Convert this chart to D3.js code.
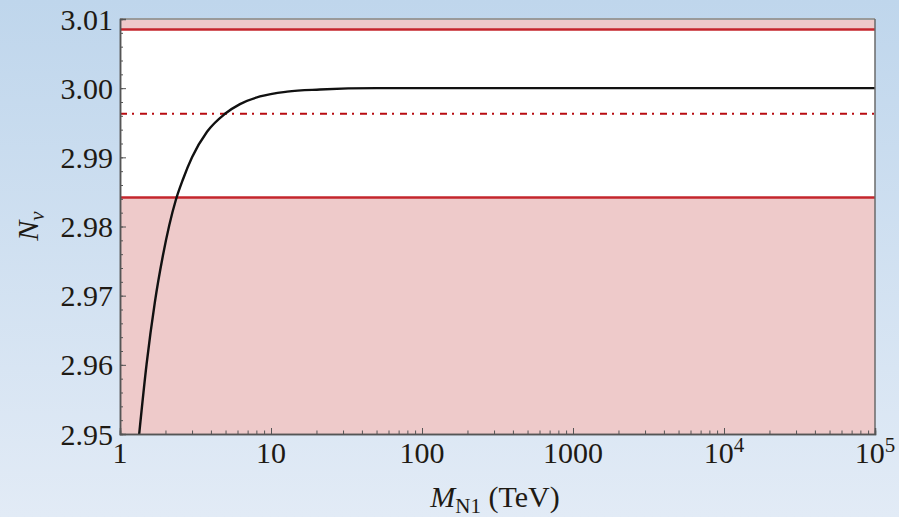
<!DOCTYPE html>
<html>
<head>
<meta charset="utf-8">
<script src="https://cdn.jsdelivr.net/npm/d3@7"></script>
<style>
  html, body { margin: 0; padding: 0; }
  body { width: 899px; height: 517px; overflow: hidden; }
  svg { display: block; }
  svg text { font-family: "Liberation Serif", "DejaVu Serif", serif; }
</style>
</head>
<body>
<svg id="chart" width="899" height="517"></svg>
<script>
// Effective number of light neutrinos vs. heavy neutrino mass
const massTeV = [1.34, 1.50, 1.70, 1.92, 2.34, 2.61, 3.00, 3.77, 4.96, 6.23, 8.46, 12.8, 21.1, 50, 200, 1000, 10000, 100000];
const nNu     = [2.9500, 2.9601, 2.9690, 2.9757, 2.9838, 2.9868, 2.9900, 2.9937, 2.9963, 2.9977, 2.9988, 2.9995, 2.9998, 3.0000, 3.0000, 3.0000, 3.0000, 3.0000];

// Experimental band: allowed region between the two solid lines, central value dash-dot
const bandUpper = 3.0085;
const bandLower = 2.9842;
const central = 2.9963;

const yTicks = [2.95, 2.96, 2.97, 2.98, 2.99, 3.00, 3.01];
const xTicks = [1, 10, 100, 1000, 10000, 100000];
const xTickLabels = ["1", "10", "100", "1000", "10^4", "10^5"];

const W = 899, H = 517;
const m = { left: 120, right: 24, top: 19, bottom: 83 };
const svg = d3.select("#chart");

// Page background gradient
const defs = svg.append("defs");
const grad = defs.append("linearGradient").attr("id", "bg").attr("x1", 0).attr("y1", 0).attr("x2", 0).attr("y2", 1);
grad.append("stop").attr("offset", "0%").attr("stop-color", "#bfd6ec");
grad.append("stop").attr("offset", "100%").attr("stop-color", "#e2ebf6");
svg.append("rect").attr("width", W).attr("height", H).attr("fill", "url(#bg)");

const x = d3.scaleLog().domain([1, 100000]).range([m.left, W - m.right]);
const y = d3.scaleLinear().domain([2.95, 3.01]).range([H - m.bottom, m.top]);

const x0 = x.range()[0], x1 = x.range()[1];
const yTop = y.range()[1], yBot = y.range()[0];

defs.append("clipPath").attr("id", "plot")
  .append("rect").attr("x", x0).attr("y", yTop).attr("width", x1 - x0).attr("height", yBot - yTop);

// Plot background
svg.append("rect").attr("x", x0).attr("y", yTop).attr("width", x1 - x0).attr("height", yBot - yTop).attr("fill", "#ffffff");

const pink = "#eecaca";
const red = "#c4262c";
// Excluded regions
svg.append("rect").attr("x", x0).attr("width", x1 - x0)
  .attr("y", y(3.01)).attr("height", y(bandUpper) - y(3.01)).attr("fill", pink);
svg.append("rect").attr("x", x0).attr("width", x1 - x0)
  .attr("y", y(bandLower)).attr("height", y(2.95) - y(bandLower)).attr("fill", pink);

const g = svg.append("g").attr("clip-path", "url(#plot)");

// Band edges
[bandUpper, bandLower].forEach(v => {
  g.append("line").attr("x1", x0).attr("x2", x1).attr("y1", y(v)).attr("y2", y(v))
    .attr("stroke", red).attr("stroke-width", 2.5);
});
// Central value
g.append("line").attr("x1", x0).attr("x2", x1).attr("y1", y(central)).attr("y2", y(central))
  .attr("stroke", "#b80c12").attr("stroke-width", 2.2).attr("stroke-dasharray", "7,5,2,6");

// Curve
const line = d3.line().x((d, i) => x(massTeV[i])).y(d => y(d)).curve(d3.curveMonotoneX);
g.append("path").attr("d", line(nNu)).attr("fill", "none")
  .attr("stroke", "#111").attr("stroke-width", 2.4);

// Frame
svg.append("line").attr("x1", x0).attr("x2", x1).attr("y1", yTop).attr("y2", yTop).attr("stroke", "#9a9a9a").attr("stroke-width", 2);
svg.append("line").attr("x1", x1).attr("x2", x1).attr("y1", yTop).attr("y2", yBot).attr("stroke", "#6a6a6a").attr("stroke-width", 1.5);

// Axes with inward ticks
const axisColor = "#555";
const yMinor = d3.range(2.95, 3.0101, 0.002).map(v => +v.toFixed(3));
const yAxis = svg.append("g").attr("transform", `translate(${x0},0)`);
yAxis.call(d3.axisRight(y).tickValues(yMinor).tickSize(3).tickFormat(""));
const yMajor = svg.append("g").attr("transform", `translate(${x0},0)`);
yMajor.call(d3.axisRight(y).tickValues(yTicks).tickSize(6).tickFormat(""));
[yAxis, yMajor].forEach(a => { a.select(".domain").attr("stroke", axisColor).attr("stroke-width", 1.5); a.selectAll(".tick line").attr("stroke", axisColor); });

const xMinorVals = [];
for (let d = 1; d < 100000; d *= 10) for (let k = 2; k <= 9; k++) xMinorVals.push(d * k);
const xAxis = svg.append("g").attr("transform", `translate(0,${yBot})`);
xAxis.call(d3.axisTop(x).tickValues(xMinorVals).tickSize(3.5).tickFormat(""));
const xMajor = svg.append("g").attr("transform", `translate(0,${yBot})`);
xMajor.call(d3.axisTop(x).tickValues(xTicks).tickSize(6).tickFormat(""));
[xAxis, xMajor].forEach(a => { a.select(".domain").attr("stroke", axisColor).attr("stroke-width", 1.5); a.selectAll(".tick line").attr("stroke", axisColor); });

const textColor = "#1e1a14";

// Y tick labels
svg.append("g").selectAll("text").data(yTicks).join("text")
  .attr("x", x0 - 7).attr("y", d => y(d)).attr("dy", "0.35em")
  .attr("text-anchor", "end").attr("font-size", 30).attr("fill", textColor)
  .text(d => d.toFixed(2));

// X tick labels (powers of ten with superscripts)
const xl = svg.append("g").selectAll("text").data(xTicks).join("text")
  .attr("x", d => x(d)).attr("y", yBot + 29)
  .attr("text-anchor", "middle").attr("font-size", 30).attr("fill", textColor);
xl.each(function(d, i) {
  const t = d3.select(this);
  const lab = xTickLabels[i];
  if (lab.includes("^")) {
    const [b, e] = lab.split("^");
    t.append("tspan").text(b);
    t.append("tspan").attr("dy", -11).attr("font-size", 21).text(e);
  } else t.text(lab);
});

// X axis title
const xt = svg.append("text").attr("x", 495).attr("y", 507)
  .attr("text-anchor", "middle").attr("font-size", 30).attr("fill", textColor);
xt.append("tspan").attr("font-style", "italic").text("M");
xt.append("tspan").attr("font-size", 21).attr("dy", 6).text("N1");
xt.append("tspan").attr("dy", -6).text(" (TeV)");

// Y axis title
const yt = svg.append("text").attr("transform", `translate(38,${226}) rotate(-90)`)
  .attr("text-anchor", "middle").attr("font-size", 30).attr("fill", textColor);
yt.append("tspan").attr("font-style", "italic").text("N");
yt.append("tspan").attr("font-style", "italic").attr("font-size", 21).attr("dy", 6).text("ν");
</script>
</body>
</html>
